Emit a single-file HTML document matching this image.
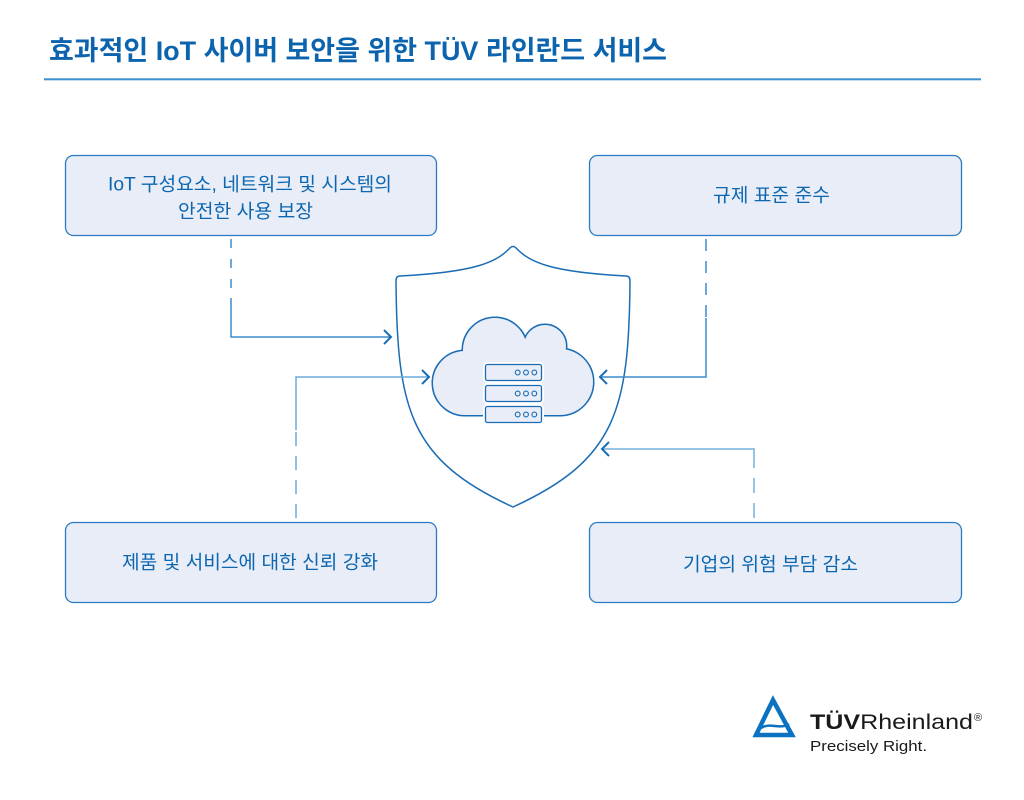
<!DOCTYPE html>
<html>
<head>
<meta charset="utf-8">
<style>
  html,body{margin:0;padding:0;background:#ffffff;}
  body{width:1024px;height:800px;overflow:hidden;}
  svg{display:block;}
  .kr{font-family:"Liberation Sans","Noto Sans CJK KR",sans-serif;}
</style>
</head>
<body>
<svg width="1024" height="800" viewBox="0 0 1024 800" xmlns="http://www.w3.org/2000/svg">
  <rect x="0" y="0" width="1024" height="800" fill="#ffffff"/>

  <!-- Title -->
  <text class="kr" x="49" y="51" dominant-baseline="central" font-size="27" font-weight="bold" fill="#0b64ad" textLength="618" lengthAdjust="spacingAndGlyphs">효과적인 IoT 사이버 보안을 위한 TÜV 라인란드 서비스</text>
  <rect x="44" y="78.3" width="937" height="2" fill="#3a8fd0"/>

  <!-- Boxes -->
  <g fill="#e8edf8" stroke="#2b7bc4" stroke-width="1.3">
    <rect x="65.5" y="155.5" width="371" height="80" rx="8"/>
    <rect x="589.5" y="155.5" width="372" height="80" rx="8"/>
    <rect x="65.5" y="522.5" width="371" height="80" rx="8"/>
    <rect x="589.5" y="522.5" width="372" height="80" rx="8"/>
  </g>

  <g class="kr" font-size="19" font-weight="normal" fill="#0d67b0">
    <text x="108" y="185" dominant-baseline="central" textLength="284" lengthAdjust="spacingAndGlyphs">IoT 구성요소, 네트워크 및 시스템의</text>
    <text x="178" y="212" dominant-baseline="central" textLength="135" lengthAdjust="spacingAndGlyphs">안전한 사용 보장</text>
    <text x="713" y="196" dominant-baseline="central" textLength="117" lengthAdjust="spacingAndGlyphs">규제 표준 준수</text>
    <text x="122" y="563" dominant-baseline="central" textLength="256" lengthAdjust="spacingAndGlyphs">제품 및 서비스에 대한 신뢰 강화</text>
    <text x="683" y="565" dominant-baseline="central" textLength="175" lengthAdjust="spacingAndGlyphs">기업의 위험 부담 감소</text>
  </g>

  <!-- Shield -->
  <path d="M 509 249 Q 513 244 517 249 C 530 262, 550 272, 626 276 Q 630 276 630 281 C 629 410, 616 460, 513 507 C 410 460, 397 410, 396 281 Q 396 276 400 276 C 476 272, 496 262, 509 249 Z"
        fill="#ffffff" stroke="#1a6db5" stroke-width="1.5"/>

  <!-- Cloud (union outline technique) -->
  <g stroke="#1a6db5" stroke-width="3" fill="#1a6db5">
    <circle cx="465" cy="383" r="32"/>
    <circle cx="495" cy="350" r="32"/>
    <circle cx="545" cy="346" r="21"/>
    <circle cx="560" cy="382" r="33"/>
    <circle cx="520" cy="380" r="30"/>
    <rect x="465" y="380" width="95" height="35"/>
  </g>
  <g fill="#e8edf8">
    <circle cx="465" cy="383" r="32"/>
    <circle cx="495" cy="350" r="32"/>
    <circle cx="545" cy="346" r="21"/>
    <circle cx="560" cy="382" r="33"/>
    <circle cx="520" cy="380" r="30"/>
    <rect x="465" y="380" width="95" height="35"/>
  </g>

  <!-- Server stack -->
  <g>
    <rect x="485.5" y="364.5" width="56" height="16" rx="2" fill="#ffffff" stroke="#ffffff" stroke-width="5"/>
    <rect x="485.5" y="385.5" width="56" height="16" rx="2" fill="#ffffff" stroke="#ffffff" stroke-width="5"/>
    <rect x="485.5" y="406.5" width="56" height="16" rx="2" fill="#ffffff" stroke="#ffffff" stroke-width="5"/>
    <g fill="#e8edf8" stroke="#1a6db5" stroke-width="1.3">
      <rect x="485.5" y="364.5" width="56" height="16" rx="2"/>
      <rect x="485.5" y="385.5" width="56" height="16" rx="2"/>
      <rect x="485.5" y="406.5" width="56" height="16" rx="2"/>
    </g>
    <g fill="none" stroke="#1a6db5" stroke-width="1.1">
      <circle cx="517.7" cy="372.5" r="2.4"/><circle cx="526" cy="372.5" r="2.4"/><circle cx="534.3" cy="372.5" r="2.4"/>
      <circle cx="517.7" cy="393.5" r="2.4"/><circle cx="526" cy="393.5" r="2.4"/><circle cx="534.3" cy="393.5" r="2.4"/>
      <circle cx="517.7" cy="414.5" r="2.4"/><circle cx="526" cy="414.5" r="2.4"/><circle cx="534.3" cy="414.5" r="2.4"/>
    </g>
  </g>

  <!-- Connectors -->
  <g fill="none" stroke-width="1.5">
    <!-- 1 -->
    <line x1="231" y1="239" x2="231" y2="298" stroke="#3d8cce" stroke-dasharray="9 11"/>
    <polyline points="231,298 231,337 390,337" stroke="#3d8cce"/>
    <polyline points="384,330 391,337 384,344" stroke="#1a6db5" stroke-width="2"/>
    <!-- 2 -->
    <line x1="296" y1="518" x2="296" y2="430" stroke="#6aaadb" stroke-dasharray="14 10"/>
    <polyline points="296,430 296,377 428,377" stroke="#6aaadb"/>
    <polyline points="422,370 429,377 422,384" stroke="#1a6db5" stroke-width="2"/>
    <!-- 3 -->
    <line x1="706" y1="239" x2="706" y2="318" stroke="#3d8cce" stroke-dasharray="12 10"/>
    <polyline points="706,318 706,377 601,377" stroke="#3d8cce"/>
    <polyline points="607,370 600,377 607,384" stroke="#1a6db5" stroke-width="2"/>
    <!-- 4 -->
    <line x1="754" y1="518" x2="754" y2="463" stroke="#74b0dc" stroke-dasharray="15 10"/>
    <polyline points="754,463 754,449 603,449" stroke="#74b0dc"/>
    <polyline points="609,442 602,449 609,456" stroke="#1a6db5" stroke-width="2"/>
  </g>

  <!-- Logo -->
  <g>
    <path d="M 773 700 L 756 735 L 792 735 Z" fill="none" stroke="#0a72c0" stroke-width="4.5" stroke-linejoin="miter"/>
    <path d="M 761 728 C 770 722, 780 730, 789 724" fill="none" stroke="#0a72c0" stroke-width="2.5"/>
    <text x="810" y="729" font-family="'Liberation Sans', sans-serif" font-size="21" fill="#1a1a1a" textLength="163" lengthAdjust="spacingAndGlyphs"><tspan font-weight="bold">TÜV</tspan>Rheinland</text>
    <text x="974" y="721" font-family="'Liberation Sans', sans-serif" font-size="11" fill="#1a1a1a">®</text>
    <text x="810" y="751" font-family="'Liberation Sans', sans-serif" font-size="15" fill="#1a1a1a" textLength="117" lengthAdjust="spacingAndGlyphs">Precisely Right.</text>
  </g>
</svg>
</body>
</html>
